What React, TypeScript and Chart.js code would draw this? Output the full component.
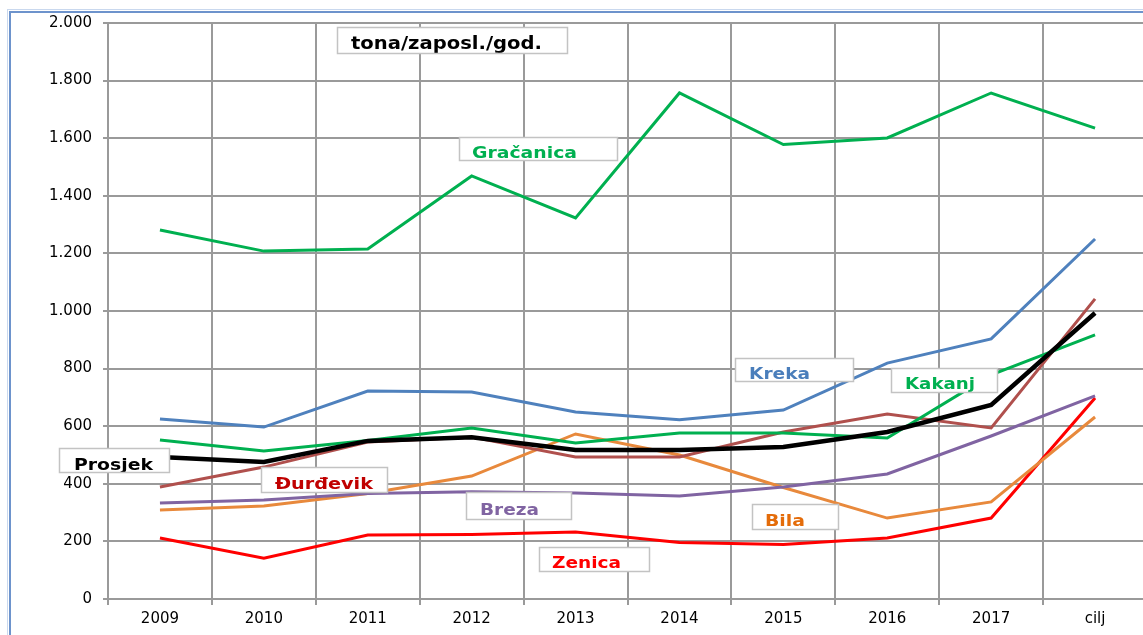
import React, { useEffect, useRef } from "react";
import { Chart, registerables } from "chart.js";

Chart.register(...registerables);

// ---- data ----
const categories = ["2009", "2010", "2011", "2012", "2013", "2014", "2015", "2016", "2017", "cilj"];
const gracanica = [1281, 1208, 1215, 1469, 1323, 1757, 1578, 1601, 1757, 1635];
const kreka = [625, 597, 722, 719, 649, 622, 656, 819, 903, 1250];
const kakanj = [552, 514, 550, 594, 542, 576, 576, 559, 778, 917];
const durdevik = [389, 458, 545, 562, 493, 493, 580, 642, 594, 1042];
const breza = [333, 344, 366, 372, 368, 358, 389, 434, 566, 705];
const bila = [309, 323, 366, 427, 573, 500, 387, 281, 337, 632];
const zenica = [212, 142, 222, 224, 233, 196, 189, 212, 281, 698];
const prosjek = [493, 476, 549, 562, 517, 517, 528, 580, 674, 993];

const yMin = 0;
const yMax = 2000;
const yStep = 200;

const seriesNames = ["Prosjek", "Gračanica", "Kreka", "Kakanj", "Đurđevik", "Breza", "Bila", "Zenica"];
const seriesValues = [prosjek, gracanica, kreka, kakanj, durdevik, breza, bila, zenica];
const seriesColors = ["#000000", "#00b050", "#4f81bd", "#00b050", "#b0504d", "#8064a2", "#e8893c", "#ff0000"];
const seriesWidths = [4.5, 3, 3, 3, 3, 3, 3, 3];

// annotation text boxes (text, colour) and their placement
const labelTexts = ["tona/zaposl./god.", "Gračanica", "Kreka", "Kakanj", "Prosjek", "Đurđevik", "Breza", "Bila", "Zenica"];
const labelColors = ["#000000", "#00b050", "#4a7ebb", "#00b050", "#000000", "#c00000", "#8064a2", "#e46c0a", "#ff0000"];
// [boxX, boxY, boxW, boxH, textX, baseline, textWidth, fontSize]
const labelPlacement = [
  [337, 27, 230, 26, 351, 49, 191, 18],
  [459, 137, 158, 23, 472, 158, 105, 15],
  [735, 358, 118, 23, 749, 379, 61, 15],
  [891, 368, 106, 24, 905, 389, 70, 15],
  [59, 448, 110, 24, 74, 470, 79, 15],
  [261, 467, 126, 25, 275, 489, 98, 15],
  [466, 492, 105, 27, 480, 515, 59, 15],
  [752, 504, 86, 25, 765, 526, 40, 15],
  [539, 547, 110, 24, 552, 568, 69, 15],
];

const fmt = (v: number) => {
  const s = String(Math.round(v));
  return s.replace(/\B(?=(\d{3})+(?!\d))/g, ".");
};

const labelPlugin = {
  id: "boxLabels",
  beforeDraw(chart: any) {
    const ctx = chart.ctx;
    ctx.save();
    ctx.fillStyle = "#ffffff";
    ctx.fillRect(0, 0, chart.width, chart.height);
    // outer frame
    ctx.strokeStyle = "#c9d8ee";
    ctx.lineWidth = 1;
    ctx.strokeRect(7.5, 9.5, chart.width + 20, chart.height + 20);
    ctx.strokeStyle = "#6d93cc";
    ctx.lineWidth = 2;
    ctx.strokeRect(10, 12, chart.width + 20, chart.height + 20);
    ctx.restore();
  },
  afterDatasetsDraw(chart: any) {
    const ctx = chart.ctx;
    labelTexts.forEach((text, i) => {
      const [bx, by, bw, bh, tx, base, tw, fs] = labelPlacement[i];
      ctx.save();
      ctx.fillStyle = "#ffffff";
      ctx.fillRect(bx, by, bw, bh);
      ctx.beginPath();
      ctx.rect(bx, by, bw, bh);
      ctx.clip();
      ctx.font = `bold ${fs}px "DejaVu Sans"`;
      const mw = ctx.measureText(text).width;
      ctx.translate(tx, base);
      ctx.scale(tw / mw, 1);
      ctx.fillStyle = labelColors[i];
      ctx.textBaseline = "alphabetic";
      ctx.textAlign = "left";
      ctx.fillText(text, 0, 0);
      ctx.restore();
      ctx.save();
      ctx.strokeStyle = "#c3c3c3";
      ctx.lineWidth = 1.5;
      ctx.strokeRect(bx + 0.5, by + 0.5, bw, bh);
      ctx.restore();
    });
  },
};

export default function App() {
  const ref = useRef<HTMLCanvasElement | null>(null);
  useEffect(() => {
    if (!ref.current) return;
    const chart = new Chart(ref.current, {
      type: "line",
      data: {
        labels: categories,
        datasets: seriesNames.map((name, i) => ({
          label: name,
          data: seriesValues[i],
          borderColor: seriesColors[i],
          backgroundColor: seriesColors[i],
          borderWidth: seriesWidths[i],
          pointRadius: 0,
          tension: 0,
          fill: false,
          order: i,
        })),
      },
      options: {
        animation: false,
        responsive: false,
        devicePixelRatio: 1,
        layout: { padding: { left: 0, top: 23, right: 3, bottom: 0 } },
        plugins: { legend: { display: false }, tooltip: { enabled: false } },
        scales: {
          x: {
            offset: true,
            grid: { offset: true, color: "#9a9a9a", lineWidth: 2, tickLength: 6, drawTicks: true },
            border: { color: "#9a9a9a", width: 2 },
            ticks: { color: "#000000", font: { family: "DejaVu Sans", size: 15 }, padding: 5, maxRotation: 0, autoSkip: false },
            afterFit: (s: any) => { s.height = 36; },
          },
          y: {
            min: yMin,
            max: yMax,
            grid: { color: "#9a9a9a", lineWidth: 2, tickLength: 5 },
            border: { color: "#9a9a9a", width: 2 },
            ticks: {
              stepSize: yStep,
              color: "#000000",
              font: { family: "DejaVu Sans", size: 15 },
              padding: 11,
              callback: (v: any) => fmt(Number(v)),
            },
            afterFit: (s: any) => { s.width = 108; },
          },
        },
      },
      plugins: [labelPlugin],
    });
    return () => chart.destroy();
  }, []);
  return (
    <div style={{ position: "fixed", left: 0, top: 0, width: 1143, height: 635, overflow: "hidden", background: "#fff" }}>
      <canvas ref={ref} width={1150} height={635} style={{ width: 1150, height: 635, display: "block" }} />
    </div>
  );
}
